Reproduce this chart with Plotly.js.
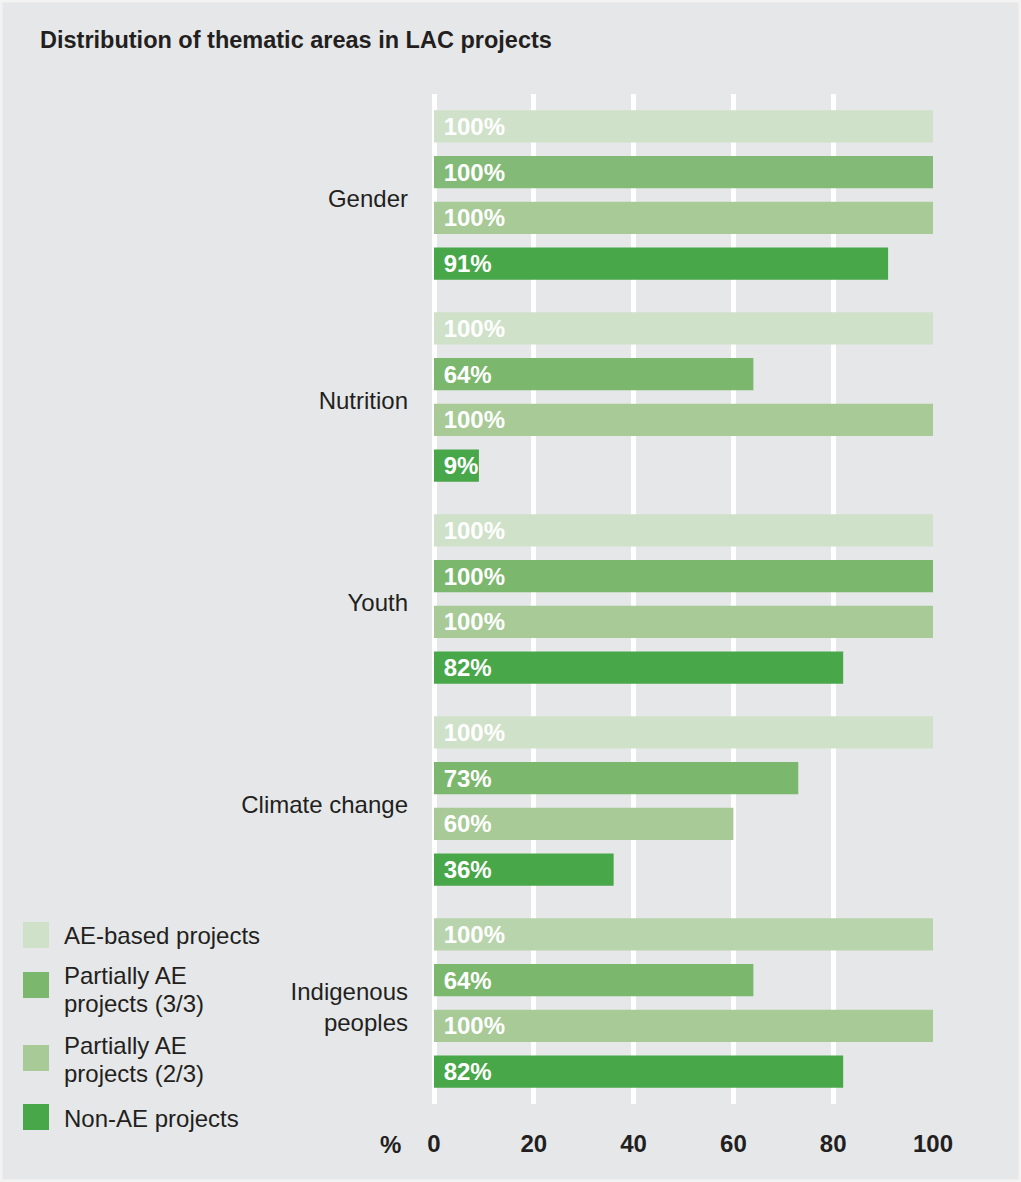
<!DOCTYPE html>
<html>
<head>
<meta charset="utf-8">
<script src="https://cdn.plot.ly/plotly-3.0.1.min.js"></script>
<style>html,body{margin:0;padding:0;background:#e6e7e9;}#chart{width:1021px;height:1182px;}</style>
</head>
<body>
<div id="chart"></div>
<script>
// ---- data ----
const categories = ['Gender', 'Nutrition', 'Youth', 'Climate change', 'Indigenous<br>peoples'];
const seriesNames = ['AE-based projects', 'Partially AE<br>projects (3/3)', 'Partially AE<br>projects (2/3)', 'Non-AE projects'];
const aeBased   = [100, 100, 100, 100, 100];
const partial33 = [100, 64, 100, 73, 64];
const partial23 = [100, 100, 100, 60, 100];
const nonAE     = [91, 9, 82, 36, 82];
const xTicks    = [0, 20, 40, 60, 80, 100];
const chartTitle = 'Distribution of thematic areas in LAC projects';
const unitLabel = '%';

// ---- styles ----
const seriesColors = ['#cfe1c9', '#7bb76d', '#a7ca97', '#47a749'];
const barColors = [
  ['#cfe1c9', '#cfe1c9', '#cfe1c9', '#cfe1c9', '#b8d4ac'],
  ['#84ba78', '#7bb76d', '#7bb76d', '#7bb76d', '#7bb76d'],
  ['#a7ca97', '#a7ca97', '#a7ca97', '#a7ca97', '#a7ca97'],
  ['#47a749', '#47a749', '#47a749', '#47a749', '#47a749']
];
const FONT = 'Liberation Sans, Arial, Helvetica, sans-serif';
const TXT = '#231f20';
const W = 1021, H = 1182;
const M = {l: 434, r: 88, t: 94, b: 78};
const pw = W - M.l - M.r, ph = H - M.t - M.b;
const px = x => (x - M.l) / pw;
const py = y => (H - M.b - y) / ph;

const values = [aeBased, partial33, partial23, nonAE];
const traces = values.map((v, i) => ({
  type: 'bar',
  orientation: 'h',
  name: seriesNames[i],
  y: categories,
  x: v,
  text: v.map(d => ' ' + d + '%'),
  textposition: 'inside',
  insidetextanchor: 'start',
  constraintext: 'none',
  cliponaxis: false,
  textfont: {family: FONT, size: 24, color: '#ffffff', weight: 'bold'},
  marker: {color: barColors[i], line: {width: 0}},
  showlegend: false,
  hoverinfo: 'x+y'
}));

// custom legend (large squares, as in the reference)
const legendSquares = [935, 985, 1058, 1117];
const legendLines = [[935], [975, 1003], [1045, 1073], [1118]];
const shapes = [];
const annotations = [];
seriesNames.forEach((name, i) => {
  const c = legendSquares[i];
  shapes.push({type: 'rect', xref: 'paper', yref: 'paper',
    x0: px(23), x1: px(49), y0: py(c + 13), y1: py(c - 13),
    fillcolor: seriesColors[i], line: {width: 0}});
  name.split('<br>').forEach((line, j) => {
    annotations.push({xref: 'paper', yref: 'paper', x: px(62), y: py(legendLines[i][j]),
      xanchor: 'left', yanchor: 'middle', showarrow: false, text: line,
      font: {family: FONT, size: 24, color: TXT}});
  });
});
annotations.push({xref: 'paper', yref: 'paper', x: px(403), y: py(1144),
  xanchor: 'right', yanchor: 'middle', showarrow: false, text: unitLabel,
  font: {family: FONT, size: 24, color: TXT, weight: 'bold'}});
// light outer frame
shapes.push({type: 'rect', xref: 'paper', yref: 'paper', layer: 'below',
  x0: px(1), x1: px(W - 1), y0: py(H - 1), y1: py(1),
  line: {color: '#f3f3f4', width: 3}, fillcolor: 'rgba(0,0,0,0)'});

const layout = {
  width: W, height: H,
  margin: M,
  paper_bgcolor: '#e6e7e9',
  plot_bgcolor: '#e6e7e9',
  barmode: 'group',
  bargap: 0.094,
  bargroupgap: 0.3,
  showlegend: false,
  title: {text: chartTitle, x: 40 / W, xref: 'container', xanchor: 'left',
    y: 1 - 40 / H, yref: 'container', yanchor: 'middle',
    font: {family: FONT, size: 23.5, color: TXT, weight: 'bold'}},
  xaxis: {
    range: [0, 100], tickvals: xTicks, ticktext: xTicks.map(String),
    showgrid: true, gridcolor: '#ffffff', gridwidth: 5,
    zeroline: true, zerolinecolor: '#ffffff', zerolinewidth: 5,
    showline: false, ticks: '', ticklabelstandoff: 23,
    tickfont: {family: FONT, size: 24, color: TXT, weight: 'bold'},
    fixedrange: true
  },
  yaxis: {
    type: 'category', categoryorder: 'array', categoryarray: categories,
    autorange: 'reversed', showgrid: false, zeroline: false, showline: false,
    ticks: '', ticklabelstandoff: 25, ticklabelshift: -4,
    tickfont: {family: FONT, size: 24, color: TXT},
    fixedrange: true
  },
  shapes: shapes,
  annotations: annotations
};

Plotly.newPlot('chart', traces, layout, {displayModeBar: false, staticPlot: true});
</script>
</body>
</html>
